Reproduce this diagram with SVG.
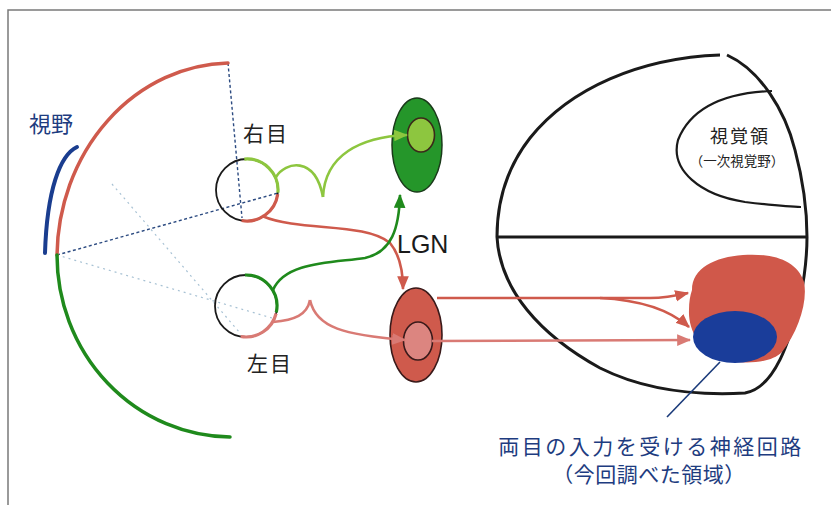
<svg xmlns="http://www.w3.org/2000/svg" width="831" height="505" viewBox="0 0 831 505">
  <style>
    .jp { font-family: "Noto Sans CJK JP", "Noto Sans", sans-serif; }
    .lbl { font-size: 21px; fill: #222; }
    .blue { fill: #1e3c80; }
    .eye { fill: none; stroke: #1a1a1a; stroke-width: 1.8; }
    .seg { fill: none; stroke-width: 3.2; }
    .dash { fill: none; stroke: #2b4a80; stroke-width: 1.4; stroke-dasharray: 3 2.5; }
    .dot { fill: none; stroke: #a8c2d4; stroke-width: 1.2; stroke-dasharray: 2 4; }
    .outline { fill: none; stroke: #1a1a1a; stroke-width: 3; }
    .con { fill: none; stroke-width: 2.6; }
  </style>
  <defs>
    <marker id="ah-lg" viewBox="0 0 12 10" refX="11" refY="5" markerWidth="14" markerHeight="12" markerUnits="userSpaceOnUse" orient="auto">
      <path d="M0,0 L12,5 L0,10 z" fill="#8dc63f"/>
    </marker>
    <marker id="ah-dg" viewBox="0 0 12 10" refX="11" refY="5" markerWidth="14" markerHeight="12" markerUnits="userSpaceOnUse" orient="auto">
      <path d="M0,0 L12,5 L0,10 z" fill="#1f8a1c"/>
    </marker>
    <marker id="ah-red" viewBox="0 0 12 10" refX="11" refY="5" markerWidth="14" markerHeight="12" markerUnits="userSpaceOnUse" orient="auto">
      <path d="M0,0 L12,5 L0,10 z" fill="#cf5a4c"/>
    </marker>
    <marker id="ah-pink" viewBox="0 0 12 10" refX="11" refY="5" markerWidth="14" markerHeight="12" markerUnits="userSpaceOnUse" orient="auto">
      <path d="M0,0 L12,5 L0,10 z" fill="#d97a74"/>
    </marker>
  </defs>

  <rect x="0" y="0" width="831" height="505" fill="#ffffff"/>
  <!-- page frame -->
  <path d="M8,505 L8,10 L831,10" fill="none" stroke="#7a7a7a" stroke-width="1.5"/>

  <!-- visual field -->
  <g id="visual-field">
    <path class="dash" d="M228,63 L242,218"/>
    <path class="dash" d="M57,255 L278,193"/>
    <path class="dot" d="M57,255 L272,318"/>
    <path class="dot" d="M112,184 L240,333"/>
    <path d="M228,63 A175,195 0 0 0 57,255" fill="none" stroke="#cf5a4c" stroke-width="3.5" stroke-linecap="round"/>
    <path d="M57,255 A175,182 0 0 0 230,437" fill="none" stroke="#1f8a1c" stroke-width="3.5" stroke-linecap="round"/>
    <path d="M77,147 C60,155 47,190 45,253" fill="none" stroke="#1a3d8f" stroke-width="4" stroke-linecap="round"/>
    <text class="jp blue" x="29" y="132" font-size="22">視野</text>
  </g>

  <!-- right eye -->
  <g id="right-eye">
    <circle class="eye" cx="247" cy="190" r="31"/>
    <path class="seg" stroke="#8dc63f" d="M244.3,159.1 A31,31 0 0 1 277.9,192.7"/>
    <path class="seg" stroke="#cf5a4c" d="M277.7,194.3 A31,31 0 0 1 241.6,220.5"/>
    <text class="jp lbl" x="243" y="141" letter-spacing="2">右目</text>
  </g>

  <!-- left eye -->
  <g id="left-eye">
    <circle class="eye" cx="246" cy="306" r="31"/>
    <path class="seg" stroke="#1f8a1c" d="M244.9,275 A31,31 0 0 1 276.3,312.4"/>
    <path class="seg" stroke="#d97a74" d="M276.1,313.5 A31,31 0 0 1 240.6,336.5"/>
    <text class="jp lbl" x="247" y="371" letter-spacing="2">左目</text>
  </g>

  <!-- LGN, green layer -->
  <g id="lgn-green">
    <ellipse cx="417" cy="145" rx="25" ry="47" fill="#25962a" stroke="#1a3a1a" stroke-width="1.5"/>
    <ellipse cx="421" cy="135" rx="13.5" ry="17" fill="#8dc63f" stroke="#3a2a1a" stroke-width="1.6"/>
  </g>

  <!-- LGN, red layer -->
  <g id="lgn-red">
    <ellipse cx="416" cy="335" rx="26" ry="47" fill="#cf5a4c" stroke="#3a1a1a" stroke-width="1.6"/>
    <ellipse cx="418" cy="341" rx="14.5" ry="19" fill="#dc8580" stroke="#3a1a1a" stroke-width="1.6"/>
  </g>

  <text id="lgn-label" x="397" y="253" font-family="Liberation Sans, Arial, sans-serif" font-size="25" fill="#1a1a1a">LGN</text>

  <!-- visual cortex -->
  <g id="cortex">
    <path class="outline" d="M720,55 C640,58 570,88 530,138 C505,170 497,205 497,237"/>
    <path class="outline" d="M727,55 C760,70 785,110 795,150 C803,180 807,210 807,237"/>
    <path class="outline" d="M497,237 L807,237"/>
    <path class="outline" d="M497,237 C500,290 540,335 600,368 C640,388 690,396 745,393 C775,388 790,340 800,300 C805,275 807,255 807,237"/>
    <path d="M772,91 C720,93 690,110 678,140 C670,170 700,195 745,202 C770,205 790,207 801,207" fill="none" stroke="#1a1a1a" stroke-width="2.2"/>
    <text class="jp" x="740" y="143" text-anchor="middle" font-size="18" letter-spacing="2" fill="#222">視覚領</text>
    <text class="jp" x="737" y="166" text-anchor="middle" font-size="13.5" fill="#222">（一次視覚野）</text>
  </g>

  <!-- binocular region -->
  <g id="binocular-region">
    <path d="M692,290 C692,268 715,257 743,255 C772,253 797,260 804,282 C808,302 798,332 782,352 C770,364 745,364 720,360 C700,350 688,330 689,310 C689,302 690,296 692,290 z" fill="#d0584a"/>
    <ellipse cx="735" cy="337" rx="42" ry="26" fill="#1a3d9a"/>
    <path d="M720,362 L667,417" fill="none" stroke="#1a3a7a" stroke-width="1.6"/>
    <text class="jp blue" x="651" y="454" text-anchor="middle" font-size="21" letter-spacing="2.5">両目の入力を受ける神経回路</text>
    <text class="jp blue" x="649" y="482" text-anchor="middle" font-size="21" letter-spacing="0.5">（今回調べた領域）</text>
  </g>

  <!-- connectors -->
  <g id="connectors">
    <path class="con" stroke="#8dc63f" d="M276,177 C285,162 315,155 323,197"/>
    <path class="con" stroke="#8dc63f" marker-end="url(#ah-lg)" d="M323,197 C325,155 360,137 407,135"/>
    <path class="con" stroke="#cf5a4c" marker-end="url(#ah-red)" d="M262,216 C300,232 365,222 390,243 C400,255 403,270 403,289"/>
    <path class="con" stroke="#1f8a1c" marker-end="url(#ah-dg)" d="M273,290 C285,262 330,263 365,258 C392,252 399,228 400,195"/>
    <path class="con" stroke="#d97a74" d="M273,322 C295,320 307,315 310,300"/>
    <path class="con" stroke="#d97a74" marker-end="url(#ah-pink)" d="M310,300 C316,328 345,335 405,340"/>
    <path class="con" stroke="#cf5a4c" marker-end="url(#ah-red)" d="M437,298 L650,298 C665,298 675,296 688,293"/>
    <path class="con" stroke="#cf5a4c" marker-end="url(#ah-red)" d="M600,298 C640,300 670,310 689,327"/>
    <path class="con" stroke="#d97a74" marker-end="url(#ah-pink)" d="M432,341 L690,340"/>
  </g>
</svg>
